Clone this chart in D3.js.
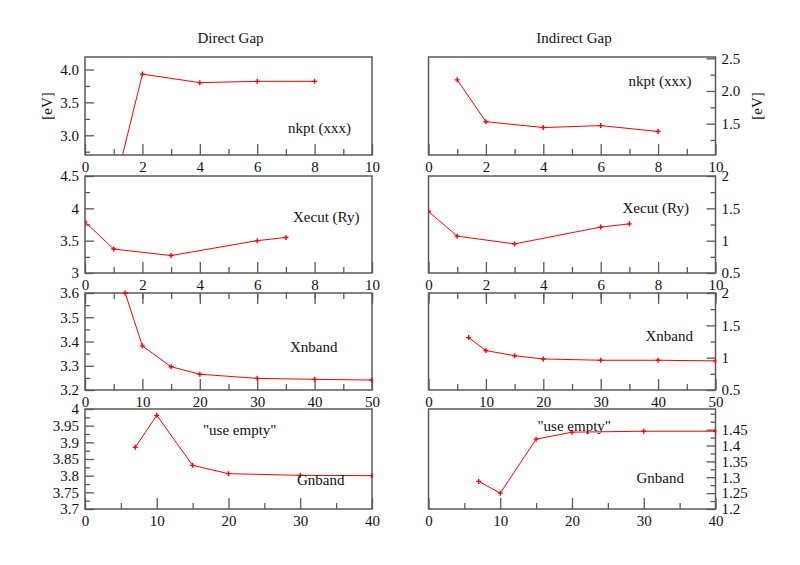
<!DOCTYPE html>
<html>
<head>
<meta charset="utf-8">
<script src="https://cdn.jsdelivr.net/npm/d3@7"></script>
<style>
  body { margin: 0; background: #fff; }
  text { font-family: "Liberation Serif", "DejaVu Serif", serif; fill: #111; }
</style>
</head>
<body>
<svg id="chart" width="800" height="565"></svg>
<script>
// convergence data
const xNkpt = [1, 2, 4, 6, 8];
const directNkpt = [2.15, 3.93, 3.80, 3.82, 3.82];
const indirectNkpt = [2.17, 1.53, 1.44, 1.47, 1.38];

const xEcut = [0, 1, 3, 6, 7];
const directEcut = [3.79, 3.37, 3.27, 3.50, 3.55];
const indirectEcut = [1.45, 1.07, 0.95, 1.21, 1.26];

const xNband = [7, 10, 15, 20, 30, 40, 50];
const directNband = [3.60, 3.382, 3.296, 3.265, 3.248, 3.244, 3.241];
const indirectNband = [1.31, 1.11, 1.03, 0.98, 0.96, 0.96, 0.95];

const xGnband = [7, 10, 15, 20, 30, 40];
const directGnband = [3.885, 3.981, 3.831, 3.806, 3.801, 3.80];
const indirectGnband = [1.287, 1.25, 1.42, 1.442, 1.445, 1.445];

// tick labels
const xTicks10 = [0, 2, 4, 6, 8, 10];
const xTicks50 = [0, 10, 20, 30, 40, 50];
const xTicks40 = [0, 10, 20, 30, 40];
const yTicksNkptD = ["3.0", "3.5", "4.0"];
const yTicksNkptI = ["1.5", "2.0", "2.5"];
const yTicksEcutD = ["3", "3.5", "4", "4.5"];
const yTicksEcutI = ["0.5", "1", "1.5", "2"];
const yTicksNbandD = ["3.2", "3.3", "3.4", "3.5", "3.6"];
const yTicksNbandI = ["0.5", "1", "1.5", "2"];
const yTicksGnbandD = ["3.7", "3.75", "3.8", "3.85", "3.9", "3.95", "4"];
const yTicksGnbandI = ["1.2", "1.25", "1.3", "1.35", "1.4", "1.45"];

const columnTitles = ["Direct Gap", "Indirect Gap"];
const unitLabel = "[eV]";

// layout
const panelW = 287;
const colX = [85, 428.5];
const rowY = [[57, 155], [176, 273], [293, 390], [409, 509]];
const font = 15;

const panels = [
  // row 1
  { r: 0, c: 0, xs: xNkpt, ys: directNkpt, xd: [0, 10], yd: [2.7, 4.19], xt: xTicks10, xm: 1, yt: yTicksNkptD, ym: 0.25,
    notes: [{ t: "nkpt (xxx)", dx: 203, dy: 76 }] },
  { r: 0, c: 1, xs: xNkpt, ys: indirectNkpt, xd: [0, 10], yd: [1.02, 2.52], xt: xTicks10, xm: 1, yt: yTicksNkptI, ym: 0.25,
    notes: [{ t: "nkpt (xxx)", dx: 200, dy: 29 }] },
  // row 2
  { r: 1, c: 0, xs: xEcut, ys: directEcut, xd: [0, 10], yd: [3, 4.5], xt: xTicks10, xm: 1, yt: yTicksEcutD, ym: 0.25,
    notes: [{ t: "Xecut (Ry)", dx: 208, dy: 46 }] },
  { r: 1, c: 1, xs: xEcut, ys: indirectEcut, xd: [0, 10], yd: [0.5, 2], xt: xTicks10, xm: 1, yt: yTicksEcutI, ym: 0.25,
    notes: [{ t: "Xecut (Ry)", dx: 194, dy: 37 }] },
  // row 3
  { r: 2, c: 0, xs: xNband, ys: directNband, xd: [0, 50], yd: [3.2, 3.6], xt: xTicks50, xm: 5, yt: yTicksNbandD, ym: 0.05, topTicks: true,
    notes: [{ t: "Xnband", dx: 205, dy: 59 }] },
  { r: 2, c: 1, xs: xNband, ys: indirectNband, xd: [0, 50], yd: [0.5, 2], xt: xTicks50, xm: 5, yt: yTicksNbandI, ym: 0.25, topTicks: true,
    notes: [{ t: "Xnband", dx: 217, dy: 48 }] },
  // row 4
  { r: 3, c: 0, xs: xGnband, ys: directGnband, xd: [0, 40], yd: [3.7, 4.0], xt: xTicks40, xm: 5, yt: yTicksGnbandD, ym: 0.025,
    notes: [{ t: "\"use empty\"", dx: 118, dy: 26 }, { t: "Gnband", dx: 212, dy: 76 }] },
  { r: 3, c: 1, xs: xGnband, ys: indirectGnband, xd: [0, 40], yd: [1.2, 1.515], xt: xTicks40, xm: 5, yt: yTicksGnbandI, ym: 0.025,
    notes: [{ t: "\"use empty\"", dx: 109, dy: 22 }, { t: "Gnband", dx: 208, dy: 74 }] },
];

const svg = d3.select("#chart");
const frameColor = "#5a5a5a";

function range(d, step) {
  const out = [];
  const start = Math.ceil(d[0] / step - 1e-6) * step;
  for (let v = start; v <= d[1] + 1e-9; v += step) out.push(+v.toFixed(4));
  return out;
}

function styleAxis(g) {
  g.select(".domain").remove();
  g.selectAll("line").attr("stroke", frameColor).attr("stroke-width", 1.3);
  g.selectAll("text").attr("font-family", "Liberation Serif").attr("font-size", font).attr("fill", "#111");
  g.attr("font-family", null).attr("font-size", null);
}

panels.forEach((p, i) => {
  const x0 = colX[p.c];
  const [top, bottom] = rowY[p.r];
  const x = d3.scaleLinear().domain(p.xd).range([x0, x0 + panelW]);
  const y = d3.scaleLinear().domain(p.yd).range([bottom, top]);
  const g = svg.append("g");

  // x axis, ticks pointing inwards
  g.append("g").attr("transform", `translate(0,${bottom})`)
    .call(d3.axisBottom(x).tickValues(range(p.xd, p.xm).filter(v => !p.xt.includes(v)))
      .tickFormat("").tickSizeInner(-6).tickSizeOuter(0))
    .call(styleAxis);
  g.append("g").attr("transform", `translate(0,${bottom})`)
    .call(d3.axisBottom(x).tickValues(p.xt).tickFormat(d3.format("d"))
      .tickSizeInner(-11).tickSizeOuter(0).tickPadding(6))
    .call(styleAxis);

  if (p.topTicks) {
    g.append("g").attr("transform", `translate(0,${top})`)
      .call(d3.axisTop(x).tickValues(range(p.xd, p.xm)).tickFormat("")
        .tickSizeInner(-6).tickSizeOuter(0))
      .call(styleAxis);
    g.append("g").attr("transform", `translate(0,${top})`)
      .call(d3.axisTop(x).tickValues(p.xt).tickFormat("")
        .tickSizeInner(-11).tickSizeOuter(0))
      .call(styleAxis);
  }

  // y axis, left column on the left, right column on the right
  const yMajor = p.yt.map(Number);
  const yMinor = range(p.yd, p.ym).filter(v => !yMajor.some(m => Math.abs(m - v) < 1e-6));
  const axisY = p.c === 0 ? d3.axisLeft : d3.axisRight;
  const yPos = p.c === 0 ? x0 : x0 + panelW;
  g.append("g").attr("transform", `translate(${yPos},0)`)
    .call(axisY(y).tickValues(yMinor).tickFormat("").tickSizeInner(-5).tickSizeOuter(0))
    .call(styleAxis);
  g.append("g").attr("transform", `translate(${yPos},0)`)
    .call(axisY(y).tickValues(yMajor).tickFormat((d, k) => p.yt[k])
      .tickSizeInner(-9).tickSizeOuter(0).tickPadding(6))
    .call(styleAxis);

  // frame
  g.append("rect")
    .attr("x", x0).attr("y", top).attr("width", panelW).attr("height", bottom - top)
    .attr("fill", "none").attr("stroke", frameColor).attr("stroke-width", 1.5);

  // data
  const clipId = `clip${i}`;
  svg.append("clipPath").attr("id", clipId).append("rect")
    .attr("x", x0).attr("y", top - 3).attr("width", panelW + 1).attr("height", bottom - top + 3);
  const pts = p.xs.map((v, k) => [v, p.ys[k]]);
  const plot = g.append("g").attr("clip-path", `url(#${clipId})`);
  plot.append("path")
    .datum(pts)
    .attr("fill", "none").attr("stroke", "#ff0000").attr("stroke-width", 1)
    .attr("d", d3.line().x(d => x(d[0])).y(d => y(d[1])));
  plot.selectAll(".mk").data(pts).enter().append("path")
    .attr("class", "mk")
    .attr("transform", d => `translate(${x(d[0])},${y(d[1])})`)
    .attr("d", "M-2.5,0H2.5M0,-2.5V2.5")
    .attr("stroke", "#ff0000").attr("stroke-width", 1.4);

  p.notes.forEach(n => {
    g.append("text").attr("x", x0 + n.dx).attr("y", top + n.dy)
      .attr("font-size", font).text(n.t);
  });
});

// column titles and unit labels
columnTitles.forEach((t, c) => {
  svg.append("text").attr("x", colX[c] + panelW / 2 + 2).attr("y", 43)
    .attr("text-anchor", "middle").attr("font-size", font).text(t);
});
[47, 757].forEach(cx => {
  svg.append("text").attr("transform", `translate(${cx + 5},106) rotate(-90)`)
    .attr("text-anchor", "middle").attr("font-size", font).text(unitLabel);
});
</script>
</body>
</html>
